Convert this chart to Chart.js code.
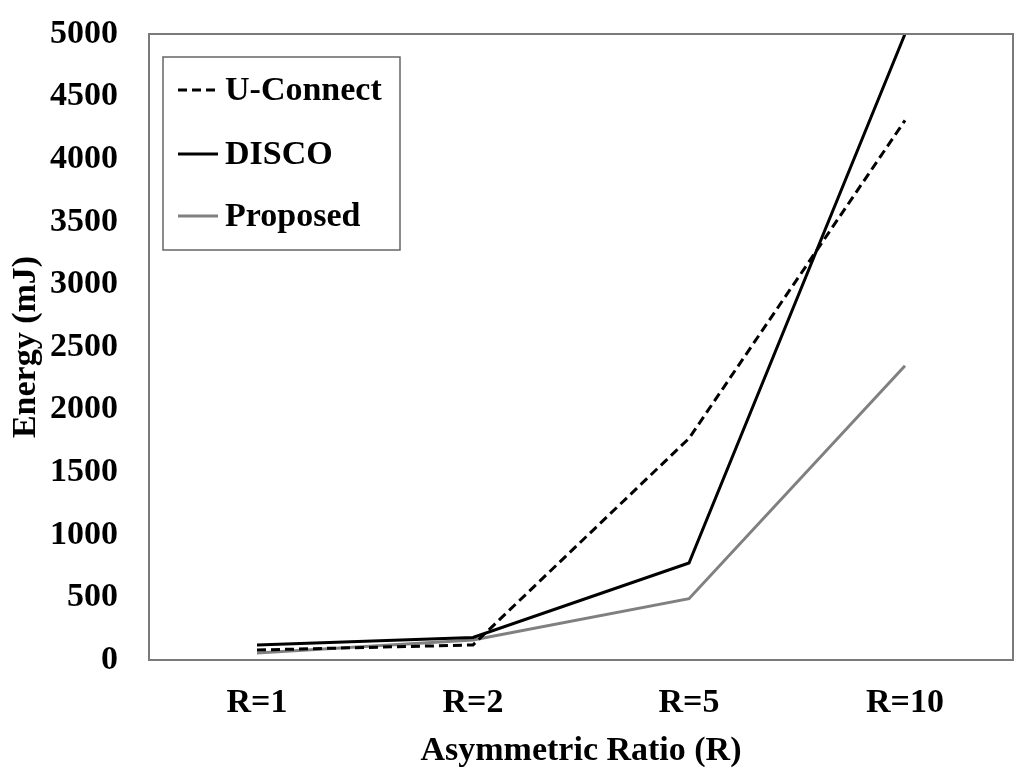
<!DOCTYPE html>
<html>
<head>
<meta charset="utf-8">
<script src="https://cdn.jsdelivr.net/npm/chart.js@4.4.1/dist/chart.umd.min.js"></script>
<style>
  body { margin: 0; background: #fff; }
</style>
</head>
<body>
<canvas id="chart" width="1024" height="775"></canvas>
<script>
// categories and series
var ratios = ["R=1", "R=2", "R=5", "R=10"];
var uconnect = [80, 120, 1770, 4310];
var disco = [120, 180, 775, 5000];
var proposed = [55, 160, 490, 2350];
var yTicks = [0, 500, 1000, 1500, 2000, 2500, 3000, 3500, 4000, 4500, 5000];

var serif = '"Liberation Serif", "Times New Roman", serif';
var bold34 = { family: serif, size: 34, weight: 'bold' };

// box round the plot area + the boxed legend in the top-left corner
var framePlugin = {
  id: 'frame',
  afterDraw: function(chart) {
    var ctx = chart.ctx, a = chart.chartArea;
    ctx.save();
    ctx.strokeStyle = '#7a7a7a';
    ctx.lineWidth = 2;
    ctx.strokeRect(a.left, a.top, a.right - a.left, a.bottom - a.top);

    var lx = a.left + 14, ly = a.top + 23, lw = 237, lh = 193;
    ctx.lineWidth = 1.5;
    ctx.strokeStyle = '#666';
    ctx.strokeRect(lx, ly, lw, lh);

    ctx.font = 'bold 34px ' + serif;
    ctx.textBaseline = 'middle';
    ctx.fillStyle = '#000';
    var rows = [33, 97, 159];
    chart.data.datasets.forEach(function(ds, i) {
      var y = ly + rows[i];
      ctx.beginPath();
      ctx.strokeStyle = ds.borderColor;
      ctx.lineWidth = 3;
      ctx.setLineDash(ds.borderDash || []);
      ctx.moveTo(lx + 15, y);
      ctx.lineTo(lx + 55, y);
      ctx.stroke();
      ctx.setLineDash([]);
      ctx.fillText(ds.label, lx + 62, y + 1);
    });
    ctx.restore();
  }
};

new Chart(document.getElementById('chart'), {
  type: 'line',
  data: {
    labels: ratios,
    datasets: [{
      label: 'U-Connect',
      data: uconnect,
      borderColor: '#000',
      borderDash: [9, 5],
      borderWidth: 3
    }, {
      label: 'DISCO',
      data: disco,
      borderColor: '#000',
      borderWidth: 3
    }, {
      label: 'Proposed',
      data: proposed,
      borderColor: '#808080',
      borderWidth: 3
    }]
  },
  options: {
    responsive: false,
    animation: false,
    layout: { padding: { top: 34, right: 11, left: 0, bottom: 0 } },
    elements: { point: { radius: 0 }, line: { tension: 0 } },
    plugins: { legend: { display: false }, tooltip: { enabled: false } },
    scales: {
      x: {
        offset: true,
        grid: { display: false, drawTicks: false },
        border: { display: false },
        ticks: { color: '#000', font: bold34, padding: 23, maxRotation: 0 },
        title: { display: true, text: 'Asymmetric Ratio (R)', color: '#000', font: bold34, padding: { top: 0, bottom: 3 } },
        afterFit: function(s) { s.height = 115; }
      },
      y: {
        min: 0,
        max: 5000,
        // invisible tick marks push the labels off the frame without padding the top
        grid: { display: true, drawOnChartArea: false, drawTicks: true, tickLength: 26, color: 'rgba(0,0,0,0)' },
        border: { display: false },
        afterBuildTicks: function(s) { s.ticks = yTicks.map(function(v) { return { value: v }; }); },
        ticks: { color: '#000', font: bold34, padding: 5, callback: function(v) { return String(v); } },
        title: { display: true, text: 'Energy (mJ)', color: '#000', font: bold34, padding: { top: 6, bottom: 0 } },
        afterFit: function(s) { s.width = 149; }
      }
    }
  },
  plugins: [framePlugin]
});
</script>
</body>
</html>
